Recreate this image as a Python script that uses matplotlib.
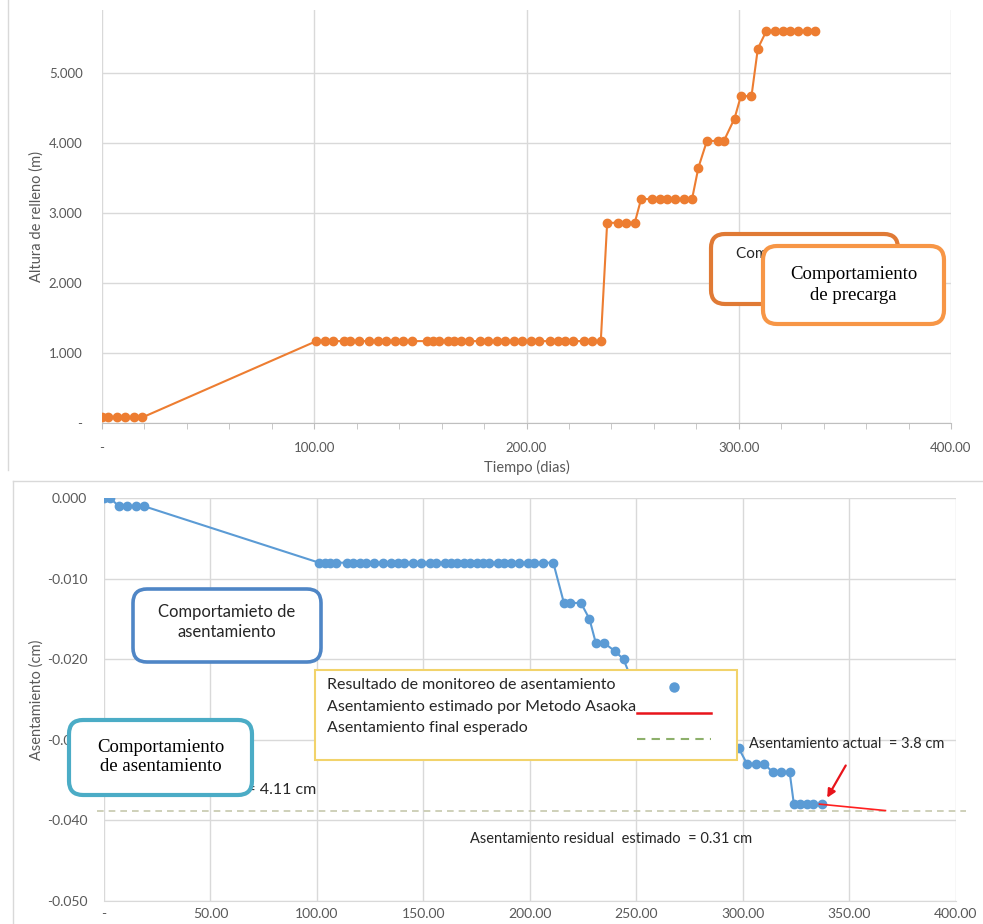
import matplotlib
matplotlib.use("Agg")
import matplotlib.pyplot as plt
from matplotlib.patches import FancyBboxPatch, Rectangle
from matplotlib.lines import Line2D
from matplotlib.transforms import Affine2D
from matplotlib.ticker import FuncFormatter, MultipleLocator

W, H = 983, 924

# --- fill height (m) vs time (days) ---
relleno_dias = [0, 3, 7, 11, 15, 19,
                101, 105, 109, 114, 117, 121, 126, 130, 134, 138, 142, 146,
                153, 156, 159, 163, 166, 169, 173, 178, 182, 186, 190, 194,
                198, 202, 206, 211, 215, 218, 222, 227, 231, 235,
                238, 243, 247, 251,
                254, 259, 263, 266, 270, 274, 278,
                281,
                285, 290, 293,
                298,
                301, 306,
                309,
                313, 317, 321, 324, 328, 332, 336]
relleno_altura = [0.08, 0.08, 0.08, 0.08, 0.08, 0.08,
                  1.17, 1.17, 1.17, 1.17, 1.17, 1.17, 1.17, 1.17, 1.17, 1.17, 1.17, 1.17,
                  1.17, 1.17, 1.17, 1.17, 1.17, 1.17, 1.17, 1.17, 1.17, 1.17, 1.17, 1.17,
                  1.17, 1.17, 1.17, 1.17, 1.17, 1.17, 1.17, 1.17, 1.17, 1.17,
                  2.86, 2.86, 2.86, 2.86,
                  3.20, 3.20, 3.20, 3.20, 3.20, 3.20, 3.20,
                  3.65,
                  4.03, 4.03, 4.03,
                  4.35,
                  4.67, 4.67,
                  5.35,
                  5.60, 5.60, 5.60, 5.60, 5.60, 5.60, 5.60]

# --- settlement (cm) vs time (days) ---
asent_dias = [0, 3, 7, 11, 15, 19,
              101, 104, 106, 109, 114, 117, 120, 123, 127, 131, 135, 138,
              141, 145, 149, 153, 156, 160, 163, 166, 169, 172, 175, 178,
              181, 185, 188, 191, 195, 199, 202, 206, 211,
              216, 219, 224,
              228,
              231, 235,
              240,
              244,
              247,
              298,
              302, 306, 310,
              314, 318, 322,
              324, 327, 330, 333, 337]
asent_valor = [0.000, 0.000, -0.001, -0.001, -0.001, -0.001,
               -0.008, -0.008, -0.008, -0.008, -0.008, -0.008, -0.008, -0.008, -0.008, -0.008, -0.008, -0.008,
               -0.008, -0.008, -0.008, -0.008, -0.008, -0.008, -0.008, -0.008, -0.008, -0.008, -0.008, -0.008,
               -0.008, -0.008, -0.008, -0.008, -0.008, -0.008, -0.008, -0.008, -0.008,
               -0.013, -0.013, -0.013,
               -0.015,
               -0.018, -0.018,
               -0.019,
               -0.020,
               -0.022,
               -0.031,
               -0.033, -0.033, -0.033,
               -0.034, -0.034, -0.034,
               -0.038, -0.038, -0.038, -0.038, -0.038]

asaoka_dias = [336, 367]
asaoka_valor = [-0.0380, -0.0388]
asent_final = -0.0388

SANS = "Lato"
SERIF = "Liberation Serif"
GRID = "#d9d9d9"
TICKC = "#595959"
ORANGE = "#ED7D31"
BLUE = "#5B9BD5"

plt.rcParams["font.family"] = [SANS, "DejaVu Sans"]

fig = plt.figure(figsize=(W / 100, H / 100), dpi=100)
px = Affine2D().scale(1, -1).translate(0, H)  # image pixel coords, y downwards


def fx(x):
    return x / W


def fy(y):
    return 1 - y / H


def num_fmt(decimals, dash_zero):
    def f(v, pos):
        v = round(v, decimals)
        if v == 0:
            return "-" if dash_zero else f"{0:.{decimals}f}"
        return f"{v:.{decimals}f}"
    return FuncFormatter(f)


# ---------------- top chart ----------------
ax1 = fig.add_axes([fx(102), fy(423), (951 - 102) / W, (423 - 10) / H])
ax1.plot(relleno_dias, relleno_altura, color=ORANGE, lw=1.5, marker="o",
         ms=6, zorder=3)
ax1.set_xlim(0, 400)
ax1.set_ylim(0, 5.9)
ax1.xaxis.set_major_locator(MultipleLocator(100))
ax1.xaxis.set_minor_locator(MultipleLocator(20))
ax1.yaxis.set_major_locator(MultipleLocator(1))
ax1.xaxis.set_major_formatter(num_fmt(2, True))
ax1.yaxis.set_major_formatter(num_fmt(3, True))
ax1.grid(True, color=GRID, lw=1)
for s in ["top", "right", "left"]:
    ax1.spines[s].set_visible(False)
ax1.spines["bottom"].set_color("#bfbfbf")
ax1.tick_params(axis="x", which="both", direction="out", length=4, color="#bfbfbf",
                labelsize=9.5, labelcolor=TICKC, pad=10)
ax1.tick_params(axis="y", length=0, labelsize=9.5, labelcolor=TICKC, pad=14)
ax1.set_xlabel("Tiempo (dias)", fontsize=10.5, color=TICKC, labelpad=4)
ax1.set_ylabel("Altura de relleno (m)", fontsize=10.5, color=TICKC, labelpad=4)

# ---------------- bottom chart ----------------
ax2 = fig.add_axes([fx(104), fy(900.7), (955.7 - 104) / W, (900.7 - 498.3) / H])
ax2.plot(asent_dias, asent_valor, color=BLUE, lw=1.5, marker="o", ms=6, zorder=3)
ax2.plot(asaoka_dias, asaoka_valor, color="#FF2020", lw=1.2, zorder=4)
ax2.axhline(asent_final, xmin=-0.008, xmax=1.012, color="#c6c8ad", lw=1.2,
            ls=(0, (4, 3)), clip_on=False, zorder=2)
ax2.set_xlim(0, 400)
ax2.set_ylim(-0.05, 0)
ax2.xaxis.set_major_locator(MultipleLocator(50))
ax2.yaxis.set_major_locator(MultipleLocator(0.01))
ax2.xaxis.set_major_formatter(num_fmt(2, True))
ax2.yaxis.set_major_formatter(num_fmt(3, False))
ax2.grid(True, color=GRID, lw=1)
for s in ["top", "right", "left"]:
    ax2.spines[s].set_visible(False)
ax2.spines["bottom"].set_color(GRID)
ax2.tick_params(axis="both", length=0, labelsize=10, labelcolor=TICKC)
ax2.tick_params(axis="x", pad=5)
ax2.tick_params(axis="y", pad=12)
ax2.set_ylabel("Asentamiento (cm)", fontsize=10.5, color=TICKC, labelpad=2)

ax2.annotate("", xy=(339, -0.0375), xytext=(349, -0.0329),
             arrowprops=dict(arrowstyle="-|>", color="#E8141B", lw=1.6,
                             mutation_scale=12))
ax2.text(303, -0.0305, "Asentamiento actual  = 3.8 cm", fontsize=10.5,
         color="#262626", va="center")
ax2.text(172, -0.0423, "Asentamiento residual  estimado  = 0.31 cm", fontsize=10.5,
         color="#262626", va="center")
ax2.text(99.6, -0.0363, "Asentamiento final = 4.11 cm", fontsize=11.5,
         color="#262626", va="center", ha="right")

# ---------------- frames of the two pasted charts ----------------
fig.add_artist(Line2D([8, 8], [0, 470], transform=px, color="#d9d9d9", lw=1))
fig.add_artist(Line2D([13, 983], [481, 481], transform=px, color="#d9d9d9", lw=1))
fig.add_artist(Line2D([13, 13], [481, 924], transform=px, color="#d9d9d9", lw=1))


def box(x0, y0, x1, y1, ec, lw, z, r=14):
    fig.add_artist(FancyBboxPatch((x0, y0), x1 - x0, y1 - y0,
                                  boxstyle=f"round,pad=0,rounding_size={r}",
                                  transform=px, fc="white", ec=ec, lw=lw, zorder=z))


# top chart callouts
box(711, 234, 898, 304, "#E07A35", 3.0, 5)
fig.text(736, 254, "Comportamiento de precarga", transform=px, fontsize=11,
         color="#262626", va="center", zorder=5.5)
box(763, 246, 944, 324, "#F79646", 3.0, 6)
fig.text(853.5, 285, "Comportamiento\nde precarga", transform=px, family=SERIF,
         fontsize=13.5, color="black", ha="center", va="center", linespacing=1.25,
         zorder=6.5)

# bottom chart callouts
box(133, 589, 321, 662, "#4F86C6", 2.6, 5)
fig.text(227, 622, "Comportamieto de\nasentamiento", transform=px, fontsize=12,
         color="#262626", ha="center", va="center", linespacing=1.35, zorder=5.5)
box(69, 720, 252, 795, "#4BACC6", 3.0, 6)
fig.text(160.5, 757, "Comportamiento\nde asentamiento", transform=px, family=SERIF,
         fontsize=13.5, color="black", ha="center", va="center", linespacing=1.2,
         zorder=6.5)

# legend panel
fig.add_artist(Rectangle((315, 670), 422, 90, transform=px, fc="white",
                         ec="#F2D36B", lw=1.5, zorder=5))
leg_rows = ["Resultado de monitoreo de asentamiento",
            "Asentamiento estimado por Metodo Asaoka",
            "Asentamiento final esperado"]
for y, s in zip([685, 706.5, 728], leg_rows):
    fig.text(327, y, s, transform=px, fontsize=11.5, color="#262626",
             va="center", zorder=5.5)
fig.add_artist(Line2D([674], [687], transform=px, marker="o", ms=6.5,
                      color=BLUE, ls="none", zorder=6))
fig.add_artist(Line2D([637, 711], [713, 713], transform=px, color="#E8141B",
                      lw=1.8, zorder=6))
fig.add_artist(Line2D([637, 711], [739, 739], transform=px, color="#8DB06B",
                      lw=1.5, ls=(0, (4, 3)), zorder=6))

fig.savefig("out.png", dpi=100)
